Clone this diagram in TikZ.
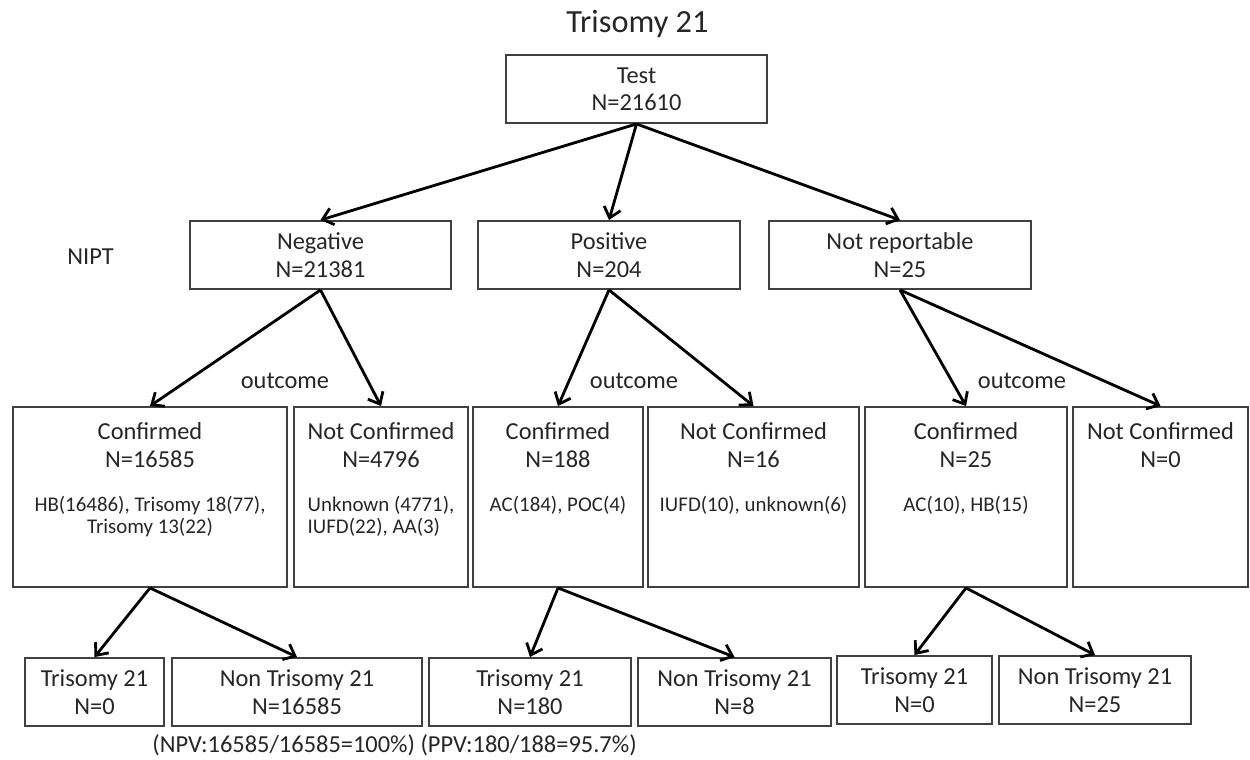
\documentclass[tikz,border=0pt]{standalone}
\usepackage{fontspec}
\setmainfont{Carlito}
\usetikzlibrary{arrows.meta}

\newcommand{\mainsize}{\fontsize{13.9}{15.6}\selectfont}
\newcommand{\detailsize}{\fontsize{11.9}{13}\selectfont}
\newcommand{\titlesize}{\fontsize{18.4}{22}\selectfont}
\newcommand{\cellbox}[2]{\parbox[c][3.6cm][t]{#1}{\centering\vspace*{9pt}#2}}

\begin{document}
\begin{tikzpicture}[x=0.02cm,y=-0.02cm,>={Straight Barb[length=2mm,width=3.4mm]}]
\tikzset{frame/.style={draw=black!75,line width=1.1pt,text=black!85,font=\mainsize},
    box/.style={frame,align=center,minimum height=1.36cm,inner sep=2pt},
    tallbox/.style={frame,inner sep=0pt,minimum height=3.6cm},
    link/.style={->,line width=1.6pt},
    lbl/.style={text=black!85,font=\mainsize,inner sep=0pt}}
\useasboundingbox (0,0) rectangle (1250,760);

\node[lbl,font=\titlesize] (title) at (637.5,24) {Trisomy 21};
\node[box,minimum width=5.22cm] (test) at (636.5,89) {Test\\N=21610};

% NIPT result
\node[lbl] (nipt) at (90.5,257) {NIPT};
\node[box,minimum width=5.22cm] (neg) at (320.5,255) {Negative\\N=21381};
\node[box,minimum width=5.24cm] (pos) at (609,255) {Positive\\N=204};
\node[box,minimum width=5.24cm] (nrep) at (900,255) {Not reportable\\N=25};

% outcome
\node[lbl] (out1) at (285,381) {outcome};
\node[lbl] (out2) at (634,381) {outcome};
\node[lbl] (out3) at (1022,381) {outcome};
\node[tallbox,minimum width=5.48cm] (conf1) at (150,497) {\cellbox{5.3cm}{Confirmed\\N=16585\par\vspace{12pt}{\detailsize HB(16486), Trisomy 18(77),\\Trisomy 13(22)\par}}};
\node[tallbox,minimum width=3.48cm] (nconf1) at (381,497) {\cellbox{3.4cm}{Not Confirmed\\N=4796\par\vspace{12pt}{\detailsize\begin{tabular}[t]{@{}l@{}}Unknown (4771),\\IUFD(22), AA(3)\end{tabular}\par}}};
\node[tallbox,minimum width=3.40cm] (conf2) at (558,497) {\cellbox{3.3cm}{Confirmed\\N=188\par\vspace{12pt}{\detailsize AC(184), POC(4)\par}}};
\node[tallbox,minimum width=4.22cm] (nconf2) at (753.5,497) {\cellbox{4.1cm}{Not Confirmed\\N=16\par\vspace{12pt}{\detailsize IUFD(10), unknown(6)\par}}};
\node[tallbox,minimum width=4.04cm] (conf3) at (966,497) {\cellbox{3.9cm}{Confirmed\\N=25\par\vspace{12pt}{\detailsize AC(10), HB(15)\par}}};
\node[tallbox,minimum width=3.50cm] (nconf3) at (1160.5,497) {\cellbox{3.4cm}{Not Confirmed\\N=0}};

% final diagnosis
\node[box,minimum width=2.78cm] (tri1) at (94.5,692) {Trisomy 21\\N=0};
\node[box,minimum width=5.00cm] (ntri1) at (297,692) {Non Trisomy 21\\N=16585};
\node[box,minimum width=4.04cm] (tri2) at (530,692) {Trisomy 21\\N=180};
\node[box,minimum width=3.86cm] (ntri2) at (734.5,692) {Non Trisomy 21\\N=8};
\node[box,minimum width=3.10cm] (tri3) at (914.5,690) {Trisomy 21\\N=0};
\node[box,minimum width=3.84cm] (ntri3) at (1095,690) {Non Trisomy 21\\N=25};
\node[lbl] (ratio) at (394.5,745) {(NPV:16585/16585=100\%) (PPV:180/188=95.7\%)};

\foreach \a/\b in {test/neg,test/pos,test/nrep,neg/conf1,neg/nconf1,pos/conf2,pos/nconf2,nrep/conf3,nrep/nconf3,conf1/tri1,conf1/ntri1,conf2/tri2,conf2/ntri2,conf3/tri3,conf3/ntri3}
    \draw[link] (\a.south) -- (\b.north);
\end{tikzpicture}
\end{document}
